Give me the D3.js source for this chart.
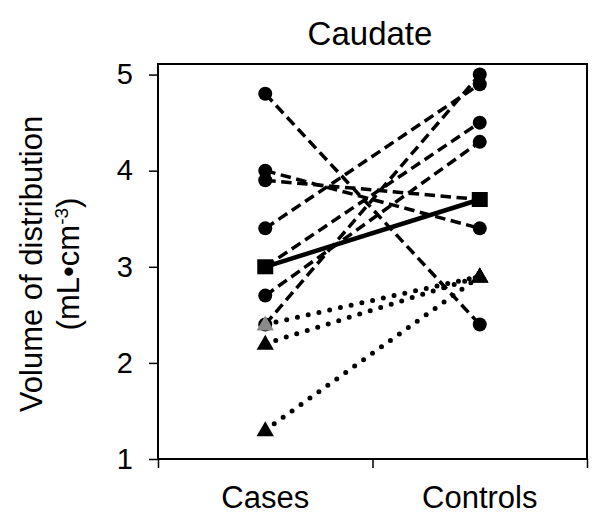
<!DOCTYPE html>
<html lang="en">
<head>
<meta charset="utf-8">
<title>Caudate</title>
<script src="https://cdn.jsdelivr.net/npm/d3@7/dist/d3.min.js"></script>
<style>
  body { margin: 0; background: #fff; }
  text { font-family: "Liberation Sans", Arial, sans-serif; fill: #000; }
</style>
</head>
<body>
<div id="wrapper"></div>
<script>
// data
const groups = ["Cases", "Controls"]
const yTicks = [1, 2, 3, 4, 5]

// dashed lines, circle markers
const circleCases    = [4.8, 4.0, 3.9, 3.4, 3.0, 2.7, 2.4]
const circleControls = [2.4, 3.4, 3.7, 4.9, 4.5, 4.3, 5.0]

// dotted lines, triangle markers
const triCases    = [2.4, 2.2, 1.3]
const triControls = [2.9, 2.9, 2.9]
const triFill     = ["#8a8a8a", "#000", "#000"]

// solid line, square markers (mean)
const meanValues = [3.0, 3.7]

const width = 608, height = 531
const margin = {top: 64, right: 21, bottom: 72, left: 158}

const svg = d3.select("#wrapper").append("svg")
    .attr("width", width)
    .attr("height", height)

const x = d3.scaleLinear().domain([0, 2]).range([margin.left, width - margin.right])
const y = d3.scaleLinear().domain([1, 5.11]).range([height - margin.bottom, margin.top])
const xPos = i => x(i + 0.5)

// frame
svg.append("rect")
    .attr("x", x(0)).attr("y", y(5.11))
    .attr("width", x(2) - x(0)).attr("height", y(1) - y(5.11))
    .attr("fill", "none").attr("stroke", "#000").attr("stroke-width", 2)

// y axis
const yAxis = svg.append("g")
    .attr("transform", `translate(${x(0)},0)`)
    .call(d3.axisLeft(y).tickValues(yTicks).tickSize(9).tickPadding(16).tickFormat(d3.format("d")))
yAxis.select(".domain").remove()
yAxis.selectAll("line").attr("stroke-width", 1.5)
yAxis.selectAll("text").style("font-size", "29px").attr("font-family", null)

// x axis ticks (between groups)
const xAxis = svg.append("g")
    .attr("transform", `translate(0,${y(1)})`)
    .call(d3.axisBottom(x).tickValues([0, 1, 2]).tickSize(9).tickFormat(""))
xAxis.select(".domain").remove()
xAxis.selectAll("line").attr("stroke-width", 1.5)

svg.selectAll(".group-label")
    .data(groups)
    .join("text")
    .attr("class", "group-label")
    .attr("x", (d, i) => xPos(i))
    .attr("y", 508)
    .attr("text-anchor", "middle")
    .style("font-size", "31px")
    .text(d => d)

// title
svg.append("text")
    .attr("x", 370)
    .attr("y", 45)
    .attr("text-anchor", "middle")
    .style("font-size", "33px")
    .text("Caudate")

// y label
const yLabel = svg.append("text")
    .attr("transform", `translate(0,264) rotate(-90)`)
    .attr("text-anchor", "middle")
    .style("font-size", "31px")
yLabel.append("tspan").attr("x", 0).attr("y", 42).text("Volume of distribution")
const l2 = yLabel.append("tspan").attr("x", 0).attr("y", 79)
l2.append("tspan").text("(mL\u2022cm")
l2.append("tspan").attr("dy", -11).style("font-size", "19px").text("-3")
l2.append("tspan").attr("dy", 11).text(")")

// lines
const pairs = (a, b) => a.map((v, i) => [v, b[i]])
const seg = d3.line().x((d, i) => xPos(i)).y(d => y(d))

svg.append("g").selectAll("path")
    .data(pairs(triCases, triControls))
    .join("path")
    .attr("d", seg)
    .attr("fill", "none").attr("stroke", "#000")
    .attr("stroke-width", 5)
    .attr("stroke-linecap", "round")
    .attr("stroke-dasharray", "0,11")

svg.append("g").selectAll("path")
    .data(pairs(circleCases, circleControls))
    .join("path")
    .attr("d", seg)
    .attr("fill", "none").attr("stroke", "#000")
    .attr("stroke-width", 3.5)
    .attr("stroke-dasharray", "10.5,5.5")

svg.append("path")
    .datum(meanValues)
    .attr("d", seg)
    .attr("fill", "none").attr("stroke", "#000")
    .attr("stroke-width", 4.5)

// markers
const circlePts = circleCases.map(v => [0, v]).concat(circleControls.map(v => [1, v]))
svg.append("g").selectAll("circle")
    .data(circlePts)
    .join("circle")
    .attr("cx", d => xPos(d[0]))
    .attr("cy", d => y(d[1]))
    .attr("r", 7)
    .attr("fill", "#000")

const triSym = d3.symbol().type(d3.symbolTriangle).size(130)
const triPts = triCases.map((v, i) => [0, v, triFill[i]]).concat(triControls.map(v => [1, v, "#000"]))
svg.append("g").selectAll("path")
    .data(triPts)
    .join("path")
    .attr("transform", d => `translate(${xPos(d[0])},${y(d[1]) + 1})`)
    .attr("d", triSym)
    .attr("fill", d => d[2])

svg.append("g").selectAll("rect")
    .data(meanValues)
    .join("rect")
    .attr("x", (d, i) => xPos(i) - 8)
    .attr("y", d => y(d) - 7.5)
    .attr("width", 16)
    .attr("height", 15)
    .attr("fill", "#000")
</script>
</body>
</html>
